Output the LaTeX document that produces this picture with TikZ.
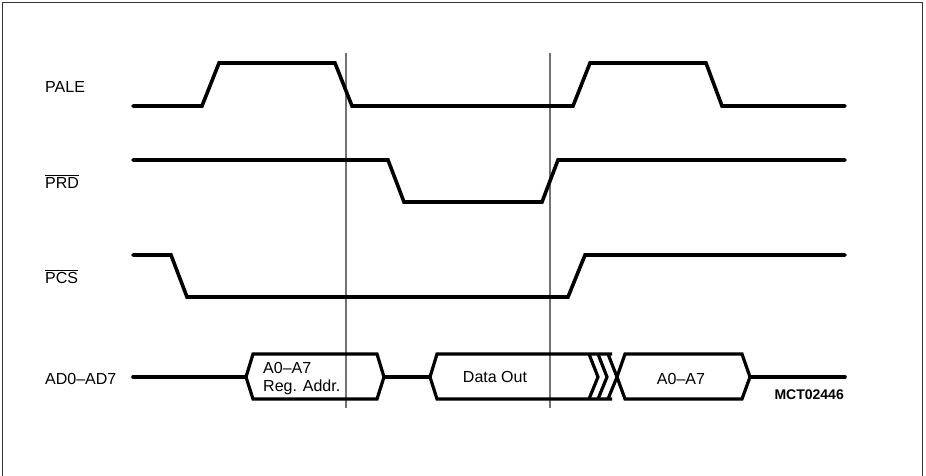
\documentclass[tikz,border=0pt]{standalone}
\usepackage{fontspec}
\setmainfont{Liberation Sans}
\usetikzlibrary{positioning}

\tikzset{
  wave/.style={line width=3.6pt, line cap=round},
  bus/.style={line width=3.2pt},
  guide/.style={line width=1.2pt, black!55},
  sig/.style={anchor=base west, inner sep=0pt, font=\fontsize{16}{18}\selectfont},
  buslab/.style={anchor=base, inner sep=0pt, font=\fontsize{16}{18}\selectfont}
}

\begin{document}
\begin{tikzpicture}[x=1pt,y=-1pt]
\useasboundingbox (0,0) rectangle (926,476);
\draw[line width=1.6pt,black!80] (2.5,480) -- (2.5,2.5) -- (922.5,2.5) -- (922.5,480);
% reference lines
\foreach \x in {346,550}{
  \draw[guide] (\x,53) -- (\x,408);
}
% signal names
\node[sig] (pale) at (45,93)  {PALE};
\node[sig] (prd)  at (45,188) {$\overline{\mbox{PRD}}$};
\node[sig] (pcs)  at (45,283) {$\overline{\mbox{PCS}}$};
\node[sig] (ad)   at (45,384) {AD0–AD7};
% waveforms
\draw[wave] (133,106) -- (202,106) -- (219,63) -- (335,63) -- (352,106) -- (573,106)
  -- (590,63) -- (706,63) -- (722,106) -- (845,106);
\draw[wave] (133,160) -- (388,160) -- (404,202) -- (542,202) -- (558,160) -- (845,160);
\draw[wave] (133,255) -- (171,255) -- (187,297) -- (568,297) -- (585,255) -- (845,255);
% bus
\draw[wave] (133,377) -- (246,377);
\draw[bus] (246,377) -- (253,354) -- (377,354) -- (384,377) -- (377,399) -- (253,399) -- cycle;
\draw[wave] (384,377) -- (430,377);
\draw[bus] (612,354) -- (437,354) -- (430,377) -- (437,399) -- (612,399);
\foreach \x in {589,598,608}{
  \draw[bus] (\x,354) -- (\x+9,377) -- (\x,399);
}
\draw[bus] (617,377) -- (625,354) -- (742,354) -- (750,377) -- (742,399) -- (625,399) -- cycle;
\draw[wave] (750,377) -- (845,377);
% bus labels
\node[sig] (addr) at (263,373) {A0–A7};
\node[sig] (reg)  at (263,391) {Reg. Addr.};
\node[buslab] (dout) at (495,382) {Data Out};
\node[buslab] (addr2) at (681,384) {A0–A7};
\node[anchor=base east, inner sep=0pt, font=\fontsize{14}{16}\selectfont\bfseries] (code) at (844,399) {MCT02446};
\end{tikzpicture}
\end{document}
